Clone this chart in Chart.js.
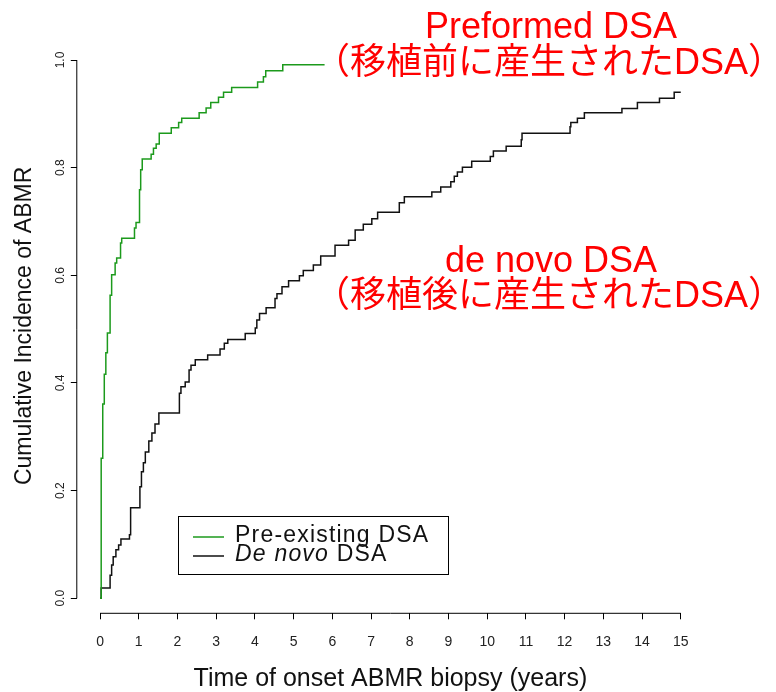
<!DOCTYPE html>
<html>
<head>
<meta charset="utf-8">
<script src="https://cdn.jsdelivr.net/npm/chart.js@4.4.1/dist/chart.umd.min.js"></script>
<style>
  html, body { margin: 0; padding: 0; background: #fff; }
  #wrap { width: 776px; height: 692px; position: relative; }
</style>
</head>
<body>
<div id="wrap"><canvas id="abmrChart"></canvas></div>
<script>
// Cumulative incidence of ABMR
const preTimes = [0, 0.03, 0.07, 0.11, 0.15, 0.19, 0.26, 0.30, 0.39, 0.43, 0.53, 0.56, 0.89, 0.93, 1.02, 1.05, 1.09, 1.32, 1.38, 1.45,
    1.53, 1.84, 2.03, 2.11, 2.56, 2.74, 2.86, 3.06, 3.19, 3.40, 4.07, 4.22, 4.28, 4.72, 5.80];
const preValues = [0, 0.260, 0.361, 0.416, 0.456, 0.493, 0.563, 0.601, 0.623, 0.632, 0.660, 0.669, 0.688, 0.698, 0.759, 0.796, 0.816, 0.825, 0.836, 0.844,
    0.864, 0.874, 0.884, 0.892, 0.902, 0.911, 0.921, 0.931, 0.940, 0.949, 0.959, 0.969, 0.980, 0.991, 0.991];

const novoTimes = [0, 0.03, 0.26, 0.30, 0.34, 0.41, 0.48, 0.54, 0.76, 0.79, 1.03, 1.07, 1.12, 1.17, 1.26, 1.34, 1.42, 1.52,
    2.05, 2.09, 2.20, 2.30, 2.35, 2.46, 2.78, 3.10, 3.21, 3.30, 3.75, 4.01, 4.05, 4.12, 4.29, 4.52, 4.57, 4.70, 4.87,
    5.15, 5.25, 5.51, 5.70, 6.07, 6.42, 6.59, 6.80, 7.02, 7.17, 7.73, 7.86, 8.57, 8.80, 9.06, 9.15, 9.23, 9.36, 9.60,
    10.08, 10.16, 10.49, 10.88, 10.90, 12.14, 12.16, 12.33, 12.51, 13.48, 13.88, 14.45, 14.83, 15.0];
const novoValues = [0, 0.019, 0.043, 0.062, 0.077, 0.090, 0.099, 0.110, 0.118, 0.168, 0.207, 0.235, 0.252, 0.272, 0.292, 0.307, 0.324, 0.344,
    0.381, 0.393, 0.402, 0.424, 0.433, 0.443, 0.452, 0.463, 0.474, 0.481, 0.492, 0.502, 0.517, 0.529, 0.540, 0.557, 0.566, 0.579, 0.590,
    0.599, 0.609, 0.619, 0.636, 0.656, 0.665, 0.684, 0.695, 0.705, 0.717, 0.735, 0.746, 0.755, 0.764, 0.774, 0.784, 0.792, 0.801, 0.812,
    0.821, 0.831, 0.840, 0.852, 0.864, 0.876, 0.884, 0.892, 0.902, 0.910, 0.921, 0.929, 0.940, 0.940];

const xTicks = [0, 1, 2, 3, 4, 5, 6, 7, 8, 9, 10, 11, 12, 13, 14, 15];
const yTicks = [0, 0.2, 0.4, 0.6, 0.8, 1.0];
const seriesLabels = ['Pre-existing DSA', 'De novo DSA'];
const seriesColors = ['#1c9a1c', '#111111'];
const notes = [
    ['Preformed DSA', '（移植前に産生されたDSA）'],
    ['de novo DSA', '（移植後に産生されたDSA）']
];

const toPoints = (ts, vs) => ts.map((t, i) => ({ x: t, y: vs[i] }));

// R-style axis lines that only run between the first and last tick
const axisLines = {
    id: 'axisLines',
    afterDraw(chart) {
        const { ctx, chartArea, scales: { x, y } } = chart;
        ctx.save();
        ctx.strokeStyle = '#000';
        ctx.lineWidth = 1;
        ctx.beginPath();
        ctx.moveTo(x.getPixelForValue(xTicks[0]), chartArea.bottom);
        ctx.lineTo(x.getPixelForValue(xTicks[xTicks.length - 1]), chartArea.bottom);
        ctx.moveTo(chartArea.left, y.getPixelForValue(yTicks[0]));
        ctx.lineTo(chartArea.left, y.getPixelForValue(yTicks[yTicks.length - 1]));
        ctx.stroke();
        ctx.restore();
    }
};

// boxed legend with the italic "De novo"
const boxLegend = {
    id: 'boxLegend',
    afterDraw(chart) {
        const ctx = chart.ctx;
        ctx.save();
        ctx.strokeStyle = '#000';
        ctx.lineWidth = 1;
        ctx.strokeRect(178.5, 516.5, 270, 58);
        const rows = [537, 556];
        chart.data.datasets.forEach((ds, i) => {
            ctx.strokeStyle = ds.borderColor;
            ctx.lineWidth = 1.5;
            ctx.beginPath();
            ctx.moveTo(193, rows[i]);
            ctx.lineTo(224, rows[i]);
            ctx.stroke();
        });
        ctx.fillStyle = '#111';
        ctx.textBaseline = 'middle';
        ctx.textAlign = 'left';
        ctx.letterSpacing = '1.2px';
        ctx.font = '23px "Liberation Sans", Arial, sans-serif';
        ctx.fillText(seriesLabels[0], 235, rows[0] - 1);
        const parts = seriesLabels[1].split(' ');
        const italicPart = parts.slice(0, 2).join(' ');
        ctx.font = 'italic 23px "Liberation Sans", Arial, sans-serif';
        ctx.fillText(italicPart, 235, rows[1] - 1);
        const w = ctx.measureText(italicPart + ' ').width;
        ctx.font = '23px "Liberation Sans", Arial, sans-serif';
        ctx.fillText(parts.slice(2).join(' '), 235 + w, rows[1] - 1);
        ctx.restore();
    }
};

// red Japanese annotations
const redNotes = {
    id: 'redNotes',
    afterDraw(chart) {
        const ctx = chart.ctx;
        ctx.save();
        ctx.fillStyle = '#ff0000';
        ctx.textAlign = 'center';
        ctx.textBaseline = 'alphabetic';
        ctx.font = '36px "Liberation Sans", "Noto Sans CJK JP", sans-serif';
        ctx.fillText(notes[0][0], 551, 38);
        ctx.fillText(notes[0][1], 549, 74);
        ctx.fillText(notes[1][0], 551, 272);
        ctx.fillText(notes[1][1], 549, 307);
        ctx.restore();
    }
};

new Chart(document.getElementById('abmrChart'), {
    type: 'line',
    data: {
        datasets: [{
            label: seriesLabels[0],
            data: toPoints(preTimes, preValues),
            borderColor: seriesColors[0],
            borderWidth: 1.5,
            stepped: 'before',
            pointRadius: 0,
            fill: false
        }, {
            label: seriesLabels[1],
            data: toPoints(novoTimes, novoValues),
            borderColor: seriesColors[1],
            borderWidth: 1.5,
            stepped: 'before',
            pointRadius: 0,
            fill: false
        }]
    },
    options: {
        responsive: true,
        maintainAspectRatio: false,
        animation: false,
        layout: {
            padding: { left: 0, right: 72, top: 38.5, bottom: 0 }
        },
        plugins: {
            legend: { display: false },
            tooltip: { enabled: false }
        },
        scales: {
            x: {
                type: 'linear',
                min: -0.6,
                max: 15.6,
                afterBuildTicks: scale => { scale.ticks = xTicks.map(v => ({ value: v })); },
                afterFit: scale => { scale.height = 78.7; },
                border: { display: false },
                grid: { drawOnChartArea: false, drawTicks: true, tickLength: 6, color: '#000' },
                ticks: {
                    maxRotation: 0,
                    autoSkip: false,
                    padding: 14,
                    color: '#222',
                    font: { family: '"Liberation Sans", Arial, sans-serif', size: 14 }
                },
                title: {
                    display: true,
                    text: 'Time of onset ABMR biopsy (years)',
                    color: '#111',
                    padding: 0,
                    font: { family: '"Liberation Sans", Arial, sans-serif', size: 25, lineHeight: 1 }
                }
            },
            y: {
                type: 'linear',
                min: -0.0279,
                max: 1.04,
                afterBuildTicks: scale => { scale.ticks = yTicks.map(v => ({ value: v })); },
                afterFit: scale => { scale.width = 76.8; },
                border: { display: false },
                grid: { drawOnChartArea: false, drawTicks: true, tickLength: 6, color: '#000' },
                ticks: {
                    minRotation: 90,
                    maxRotation: 90,
                    crossAlign: 'center',
                    padding: 2,
                    color: '#222',
                    callback: v => v.toFixed(1),
                    font: { family: '"Liberation Sans", Arial, sans-serif', size: 12 }
                },
                title: {
                    display: true,
                    text: 'Cumulative Incidence of ABMR',
                    color: '#111',
                    padding: { top: 13, bottom: 0 },
                    font: { family: '"Liberation Sans", Arial, sans-serif', size: 23, lineHeight: 1 }
                }
            }
        }
    },
    plugins: [axisLines, boxLegend, redNotes]
});
</script>
</body>
</html>
